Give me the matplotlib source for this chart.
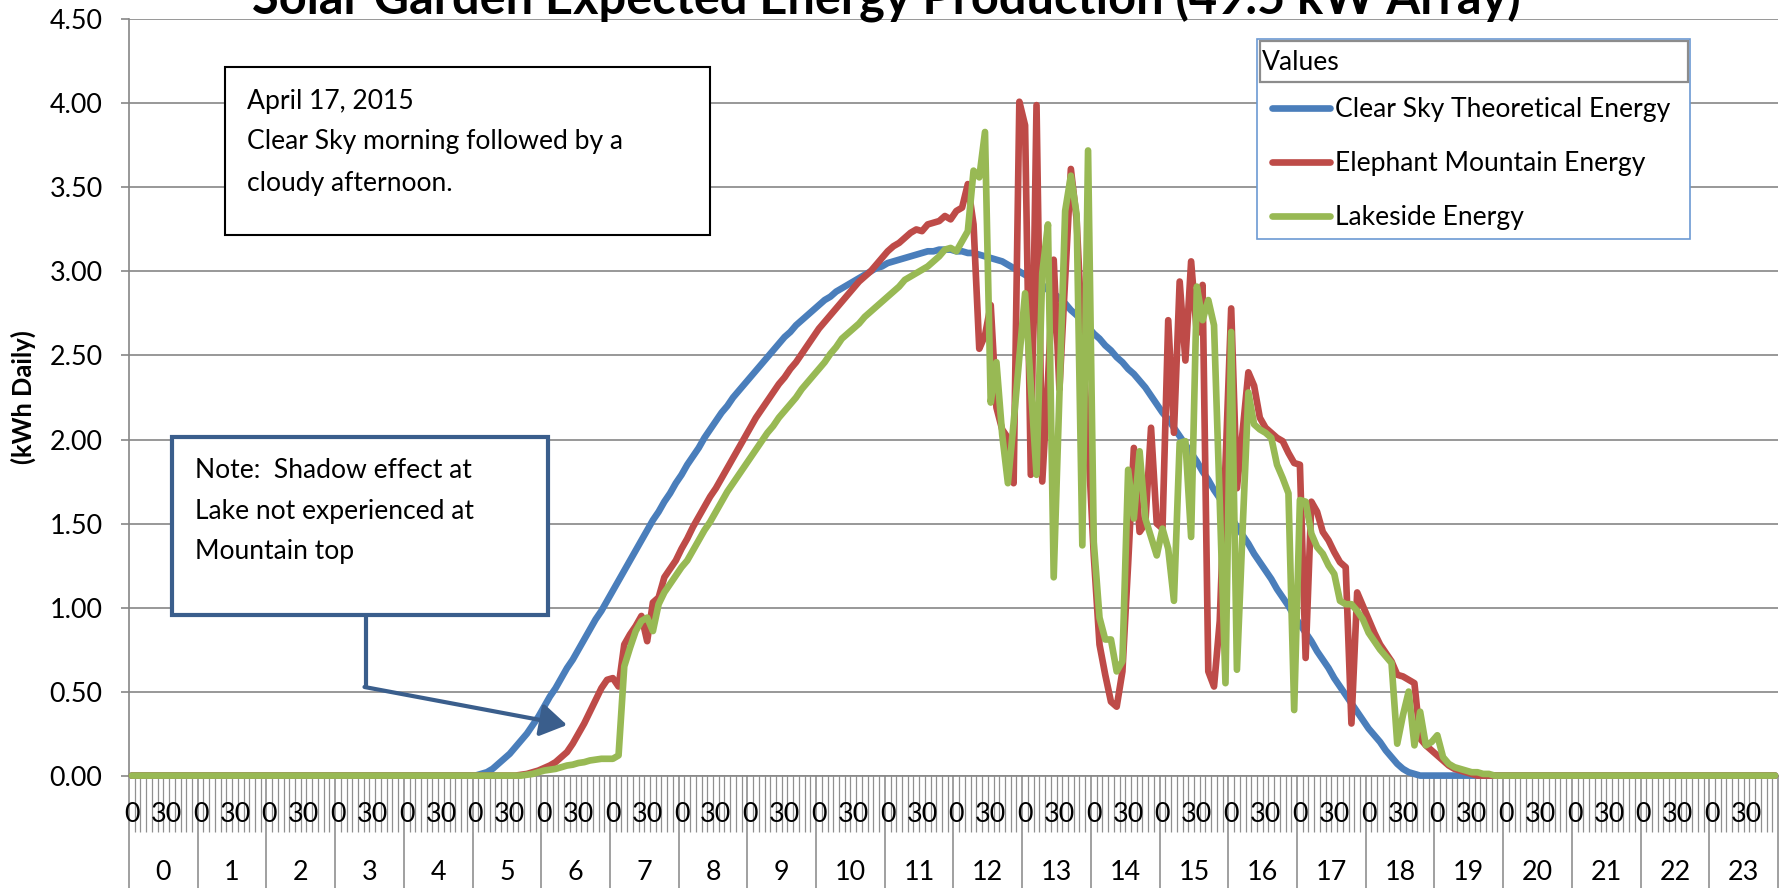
import numpy as np
import matplotlib.pyplot as plt
import matplotlib.transforms as mtransforms
from matplotlib.patches import Rectangle, FancyArrowPatch
from matplotlib.lines import Line2D

# categories: one per 5 minutes over the day
hours = list(range(24))
minutes = [0, 5, 10, 15, 20, 25, 30, 35, 40, 45, 50, 55]
shown_minutes = [0, 30]

title = "Solar Garden Expected Energy Production (49.5 kW Array)"
y_label = "(kWh Daily)"
legend_title = "Values"
series_names = ["Clear Sky Theoretical Energy", "Elephant Mountain Energy", "Lakeside Energy"]
note_date = ["April 17, 2015", "Clear Sky morning followed by a", "cloudy afternoon."]
note_shadow = ["Note:  Shadow effect at", "Lake not experienced at", "Mountain top"]

clear_sky = [0.0] * 60 + [
    0.00, 0.01, 0.02, 0.04, 0.07, 0.10, 0.13, 0.17, 0.21, 0.25,
    0.30, 0.35, 0.41, 0.47, 0.52, 0.58, 0.64, 0.69, 0.75, 0.81,
    0.87, 0.93, 0.98, 1.04, 1.10, 1.16, 1.22, 1.28, 1.34, 1.40,
    1.46, 1.52, 1.57, 1.63, 1.68, 1.74, 1.79, 1.85, 1.90, 1.95,
    2.01, 2.06, 2.11, 2.16, 2.20, 2.25, 2.29, 2.33, 2.37, 2.41,
    2.45, 2.49, 2.53, 2.57, 2.61, 2.64, 2.68, 2.71, 2.74, 2.77,
    2.80, 2.83, 2.85, 2.88, 2.90, 2.92, 2.94, 2.96, 2.98, 3.00,
    3.02, 3.03, 3.05, 3.06, 3.07, 3.08, 3.09, 3.10, 3.11, 3.12,
    3.12, 3.13, 3.13, 3.13, 3.12, 3.12, 3.11, 3.11, 3.10, 3.09,
    3.08, 3.07, 3.06, 3.04, 3.02, 3.00, 2.98, 2.96, 2.94, 2.92,
    2.89, 2.87, 2.84, 2.81, 2.77, 2.74, 2.70, 2.67, 2.63, 2.60,
    2.56, 2.53, 2.49, 2.46, 2.42, 2.39, 2.35, 2.31, 2.26, 2.21,
    2.16, 2.12, 2.07, 2.02, 1.97, 1.92, 1.87, 1.81, 1.76, 1.70,
    1.65, 1.59, 1.54, 1.48, 1.43, 1.38, 1.32, 1.27, 1.22, 1.17,
    1.11, 1.06, 1.01, 0.95, 0.90, 0.85, 0.80, 0.74, 0.69, 0.64,
    0.58, 0.53, 0.48, 0.43, 0.38, 0.33, 0.28, 0.24, 0.20, 0.15,
    0.11, 0.07, 0.04, 0.02, 0.01,
] + [0.0] * 63

elephant = [0.0] * 68 + [
    0.005, 0.01, 0.02, 0.03, 0.045, 0.06, 0.08, 0.11, 0.14, 0.19,
    0.25, 0.31, 0.38, 0.45, 0.52, 0.57, 0.58, 0.53, 0.78, 0.84,
    0.89, 0.95, 0.80, 1.03, 1.06, 1.18, 1.23, 1.28, 1.35, 1.41,
    1.48, 1.54, 1.60, 1.66, 1.71, 1.77, 1.83, 1.89, 1.95, 2.01,
    2.07, 2.13, 2.18, 2.23, 2.28, 2.33, 2.37, 2.42, 2.46, 2.51,
    2.56, 2.61, 2.66, 2.70, 2.74, 2.78, 2.82, 2.86, 2.90, 2.94,
    2.97, 3.00, 3.04, 3.08, 3.12, 3.15, 3.17, 3.20, 3.23, 3.25,
    3.24, 3.28, 3.29, 3.30, 3.33, 3.31, 3.36, 3.38, 3.52, 3.28,
    2.54, 2.62, 2.80, 2.19, 2.06, 2.01, 1.74, 4.01, 3.87, 1.79,
    3.99, 1.75, 2.35, 3.07, 2.30, 2.95, 3.61, 3.31, 2.60, 2.00,
    1.31, 0.78, 0.60, 0.44, 0.41, 0.62, 1.26, 1.95, 1.45, 1.50,
    2.07, 1.50, 1.47, 2.71, 2.04, 2.94, 2.47, 3.06, 2.63, 2.92,
    0.62, 0.53, 0.92, 1.85, 2.78, 1.71, 2.05, 2.40, 2.32, 2.13,
    2.07, 2.04, 2.01, 1.99, 1.92, 1.86, 1.85, 0.70, 1.63, 1.57,
    1.45, 1.40, 1.33, 1.27, 1.24, 0.31, 1.09, 1.01, 0.93, 0.85,
    0.78, 0.73, 0.68, 0.60, 0.59, 0.57, 0.55, 0.22, 0.18, 0.15,
    0.12, 0.09, 0.06, 0.04, 0.03, 0.02, 0.01,
] + [0.0] * 53

lakeside = [0.0] * 69 + [
    0.005, 0.01, 0.02, 0.03, 0.035, 0.04, 0.05, 0.06, 0.065, 0.075,
    0.08, 0.09, 0.095, 0.10, 0.10, 0.10, 0.12, 0.65, 0.76, 0.86,
    0.92, 0.94, 0.86, 1.02, 1.09, 1.14, 1.19, 1.24, 1.28, 1.34,
    1.40, 1.46, 1.51, 1.57, 1.63, 1.69, 1.74, 1.79, 1.84, 1.89,
    1.94, 1.99, 2.04, 2.08, 2.13, 2.17, 2.21, 2.25, 2.30, 2.34,
    2.38, 2.42, 2.46, 2.51, 2.55, 2.60, 2.63, 2.66, 2.69, 2.73,
    2.76, 2.79, 2.82, 2.85, 2.88, 2.91, 2.95, 2.97, 2.99, 3.01,
    3.03, 3.06, 3.09, 3.13, 3.14, 3.12, 3.18, 3.24, 3.60, 3.56,
    3.83, 2.22, 2.46, 2.03, 1.74, 2.10, 2.49, 2.87, 2.32, 1.79,
    2.99, 3.28, 1.18, 2.27, 3.36, 3.57, 3.34, 1.37, 3.72, 1.39,
    0.94, 0.81, 0.81, 0.62, 0.68, 1.82, 1.53, 1.93, 1.53, 1.42,
    1.31, 1.47, 1.35, 1.04, 1.98, 1.99, 1.42, 2.91, 2.71, 2.83,
    2.68, 1.63, 0.55, 2.64, 0.63, 1.47, 2.28, 2.09, 2.06, 2.04,
    2.01, 1.85, 1.77, 1.68, 0.39, 1.64, 1.63, 1.44, 1.36, 1.32,
    1.25, 1.20, 1.04, 1.02, 1.02, 0.98, 0.93, 0.85, 0.80, 0.75,
    0.71, 0.67, 0.19, 0.36, 0.50, 0.18, 0.38, 0.18, 0.20, 0.24,
    0.11, 0.07, 0.05, 0.04, 0.03, 0.02, 0.02, 0.01, 0.01,
] + [0.0] * 50

n_cat = len(hours) * len(minutes)
assert len(clear_sky) == n_cat and len(elephant) == n_cat and len(lakeside) == n_cat

plt.rcParams['font.family'] = ['Lato', 'DejaVu Sans']

W, H = 1786, 888
GRID = '#868686'

def fx(px):
    return px / W

def fy(py):
    return 1 - py / H

fig = plt.figure(figsize=(W / 100, H / 100), dpi=100)
ax = fig.add_axes([fx(129), fy(775.6), (1778 - 129) / W, (775.6 - 19.4) / H])


def width_fit(txt, target, size=20, **kw):
    # font size (pt) so that txt is about target pixels wide
    t = fig.text(0, 0, txt, fontsize=size, **kw)
    w = t.get_window_extent(renderer=fig.canvas.get_renderer()).width
    t.remove()
    return size * target / w


body_fs = width_fit(series_names[0], 336)
tick_fs = width_fit("4.50", 53)
title_fs = width_fit(title, 1267, fontweight='bold')
ylab_fs = width_fit(y_label, 134, fontweight='bold')
px = 100 / 72  # pixels per point

x = np.arange(n_cat) + 0.5
colors = ['#4A7EBB', '#BE4B48', '#98B954']
lines = []
for vals, name, c in zip([clear_sky, elephant, lakeside], series_names, colors):
    ln, = ax.plot(x, vals, color=c, lw=4.8, label=name, clip_on=False,
                  solid_joinstyle='round', solid_capstyle='round', zorder=3)
    lines.append(ln)

ax.set_xlim(0, n_cat)
ax.set_ylim(0, 4.5)
ax.set_yticks(np.arange(0, 4.51, 0.5))
ax.yaxis.set_major_formatter('{x:.2f}')
ax.grid(axis='y', color=GRID, lw=1.2)
ax.set_axisbelow(True)
for s in ['top', 'right']:
    ax.spines[s].set_visible(False)
for s in ['left', 'bottom']:
    ax.spines[s].set_color(GRID)
    ax.spines[s].set_linewidth(1.2)
ax.tick_params(axis='y', direction='out', length=6, width=1.2, color=GRID,
               labelsize=tick_fs, pad=13)

# category ticks and hour separators
ax.set_xticks(np.arange(0, n_cat + 1, len(minutes)))
ax.set_xticks(np.arange(0, n_cat + 1), minor=True)
ax.tick_params(axis='x', which='major', direction='out', length=90, width=1.1,
               color=GRID, labelbottom=False)
ax.tick_params(axis='x', which='minor', direction='out', length=40, width=0.9,
               color='#909090', labelbottom=False)

trans = mtransforms.blended_transform_factory(ax.transData, ax.transAxes)
lab_h = (775.6 - 822) / 756.2
hour_h = (775.6 - 880) / 756.2
for hi, h in enumerate(hours):
    for mi, m in enumerate(minutes):
        if m in shown_minutes:
            ax.text(hi * len(minutes) + mi + 0.5, lab_h, str(m), transform=trans,
                    ha='center', va='baseline', fontsize=tick_fs, clip_on=False)
    ax.text(hi * len(minutes) + len(minutes) / 2, hour_h, str(h), transform=trans,
            ha='center', va='baseline', fontsize=tick_fs, clip_on=False)

# the title sits partly above the top edge, as in the original screenshot
fig.text(fx(886), fy(14), title, ha='center', va='baseline', fontsize=title_fs,
         fontweight='bold')
fig.text(fx(23), fy(397.5), y_label, rotation=90, ha='center', va='center',
         fontsize=ylab_fs, fontweight='bold')

# legend box with its "Values" header
fig.add_artist(Rectangle((fx(1257), fy(239)), (1690 - 1257) / W, (239 - 39) / H,
                         transform=fig.transFigure, facecolor='white',
                         edgecolor='#6C9AD3', lw=1.2, zorder=4))
fig.add_artist(Rectangle((fx(1259.5), fy(82)), (1688 - 1259.5) / W, (82 - 41) / H,
                         transform=fig.transFigure, facecolor='white',
                         edgecolor='#8C8C8C', lw=1.6, zorder=4))
fig.text(fx(1262), fy(62), legend_title, ha='left', va='center', fontsize=body_fs,
         zorder=6)
fs_px = body_fs * px
fig.legend(handles=lines, loc='upper left', bbox_to_anchor=(fx(1272), fy(97)),
           bbox_transform=fig.transFigure, frameon=False, fontsize=body_fs,
           borderpad=0, borderaxespad=0, handlelength=58 / fs_px,
           handletextpad=5 / fs_px, labelspacing=1.1, handleheight=0.7)

# text boxes
fig.add_artist(Rectangle((fx(225), fy(235)), (710 - 225) / W, (235 - 67) / H,
                         transform=fig.transFigure, facecolor='white',
                         edgecolor='black', lw=1.5, zorder=4))
for line, yy in zip(note_date, [101, 142, 183]):
    fig.text(fx(247), fy(yy), line, ha='left', va='center', fontsize=body_fs, zorder=6)

NOTE_C = '#3A5E8C'
fig.add_artist(Rectangle((fx(172), fy(615)), (548 - 172) / W, (615 - 437) / H,
                         transform=fig.transFigure, facecolor='white',
                         edgecolor=NOTE_C, lw=3, zorder=4))
for line, yy in zip(note_shadow, [470, 511, 551]):
    fig.text(fx(195), fy(yy), line, ha='left', va='center', fontsize=body_fs, zorder=6)

fig.add_artist(Line2D([fx(366), fx(366)], [fy(615), fy(687)], transform=fig.transFigure,
                      color=NOTE_C, lw=3, solid_capstyle='butt', zorder=4))
fig.add_artist(FancyArrowPatch((fx(364.5), fy(687)), (fx(567), fy(725)),
                               transform=fig.transFigure,
                               arrowstyle='-|>,head_length=0.8,head_width=0.5',
                               mutation_scale=20, color=NOTE_C, lw=3,
                               shrinkA=0, shrinkB=0, zorder=4))

fig.savefig('out.png', dpi=100)
